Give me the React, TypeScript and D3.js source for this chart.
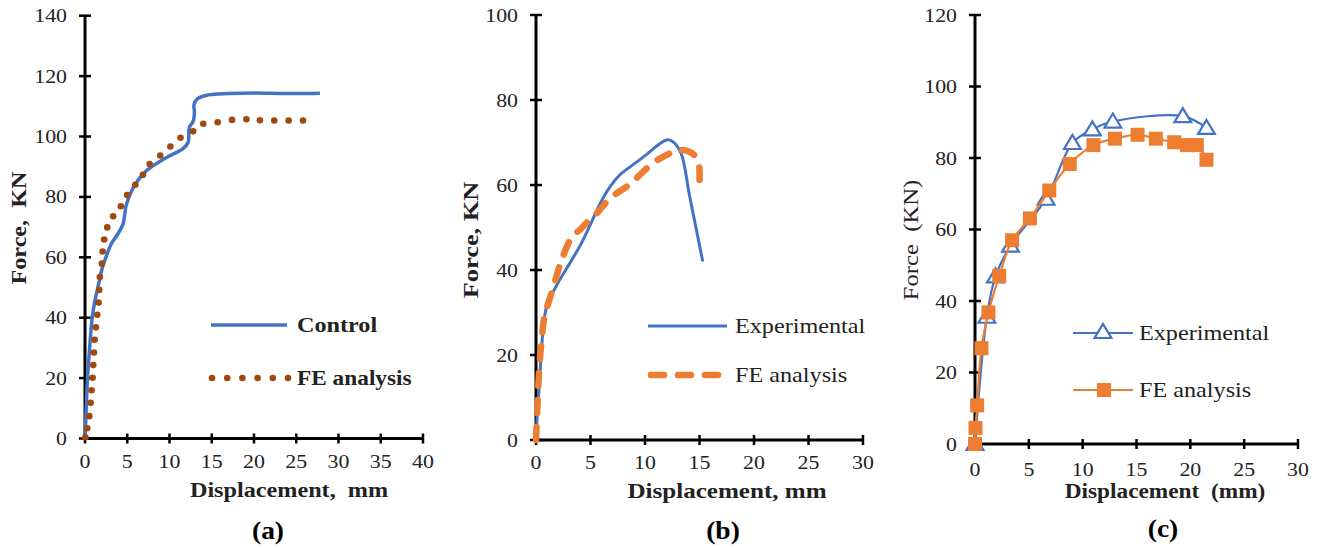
import React from "react";
import * as d3 from "d3";

type Pt = [number, number];

// Panel (a)
const A_CONTROL: Pt[] = [[0,0],[0.15,10],[0.3,20],[0.55,30],[0.85,40],[1.2,46],[1.6,51],[2.1,57],[2.6,61],[3.1,64.4],[3.9,67.8],[4.5,71],[4.9,77.5],[5.7,83],[7.2,88.5],[9.6,93],[11.6,96],[12.2,98],[12.35,103],[12.8,105],[12.95,108],[12.9,110.5],[13.3,112.5],[14.3,113.6],[17,114.2],[20,114.4],[24,114.2],[27.8,114.3]];
const A_FE: Pt[] = [[0.05,0.4],[0.27,3.4],[0.51,7.4],[0.67,11.8],[0.78,16],[0.9,20.1],[0.98,24.3],[1.06,28.5],[1.14,32.7],[1.29,36.8],[1.45,41],[1.61,45],[1.69,49.2],[1.76,53.5],[2.0,57.9],[2.08,61.9],[2.27,65.9],[2.63,69.9],[3.33,73.6],[4.24,76.9],[4.98,80.6],[5.96,84],[6.86,87.3],[7.65,90.9],[8.9,93.7],[10.1,96.7],[11.3,99.6],[12.8,101.7],[14,104.2],[15.7,104.7],[17.4,105.5],[19.1,105.7],[20.7,105.4],[22.4,105.3],[24.1,105.3],[25.8,105.3]];
const A_XTICKS = [0,5,10,15,20,25,30,35,40];
const A_YTICKS = [0,20,40,60,80,100,120,140];

// Panel (b)
const B_EXP: Pt[] = [[0,0],[0.1,5],[0.3,13],[0.5,21],[0.75,28.5],[1.1,32.5],[1.5,34.5],[2.0,36.9],[3.1,41.6],[4.0,45.5],[4.9,50.2],[5.9,55.7],[6.8,59.6],[7.7,62.4],[8.6,64.2],[10.1,67.1],[11.3,69.6],[12.0,70.6],[12.5,70.3],[13.3,67.5],[14.1,57.3],[15.3,42]];
const B_FE: Pt[] = [[0,0],[0.15,9],[0.3,17],[0.5,23],[0.8,29.5],[1.1,32],[1.6,36],[2.35,42.4],[3.4,48.2],[4.0,49.4],[4.9,51.8],[5.7,53.7],[6.8,56.9],[8.3,59.6],[9.2,61.6],[10.7,65.1],[12.0,67.1],[13.0,68.2],[14.1,67.8],[14.85,65.9],[15.0,61.2]];
const B_XTICKS = [0,5,10,15,20,25,30];
const B_YTICKS = [0,20,40,60,80,100];

// Panel (c)
const C_EXP: Pt[] = [[0,0],[1.1,35.6],[1.9,46.9],[3.3,55.5],[6.6,68.6],[9.05,84.2],[10.9,88],[12.8,90.2],[19.3,91.7],[21.5,88.4]];
const C_FE: Pt[] = [[0,0],[0.05,4.5],[0.2,10.8],[0.6,26.8],[1.25,36.8],[2.25,47],[3.45,57],[5.1,63.1],[6.9,70.9],[8.8,78.3],[11.0,83.6],[13.0,85.4],[15.1,86.5],[16.8,85.4],[18.5,84.4],[19.7,83.6],[20.6,83.6],[21.5,79.5]];
const C_XTICKS = [0,5,10,15,20,25,30];
const C_YTICKS = [0,20,40,60,80,100,120];

const FONT = "'Liberation Serif', 'Times New Roman', serif";
const BLUE = "#4472C4";
const ORANGE = "#ED7D31";
const BROWN = "#A0490F";
const NB = "\u00A0";

interface TProps {
  x: number;
  y: number;
  size: number;
  bold?: boolean;
  anchor?: "start" | "middle" | "end";
  rotate?: number;
  sx?: number;
  fill?: string;
  children: React.ReactNode;
}

function T({ x, y, size, bold, anchor = "start", rotate = 0, sx = 1.14, fill = "#222", children }: TProps) {
  return (
    <text
      transform={`translate(${x},${y}) rotate(${rotate}) scale(${sx},1)`}
      textAnchor={anchor}
      fontFamily={FONT}
      fontSize={size}
      fontWeight={bold ? "bold" : "normal"}
      fill={fill}
    >
      {children}
    </text>
  );
}

interface AxesProps {
  x: d3.ScaleLinear<number, number>;
  y: d3.ScaleLinear<number, number>;
  xticks: number[];
  yticks: number[];
  xLabelDy: number;
}

function Axes({ x, y, xticks, yticks, xLabelDy }: AxesProps) {
  const [x0, x1] = x.range();
  const [y0, y1] = y.range();
  return (
    <g>
      <line x1={x0} x2={x0} y1={y0} y2={y1} stroke="#000" strokeWidth={3} />
      <line x1={x0} x2={x1} y1={y0} y2={y0} stroke="#000" strokeWidth={3} />
      {yticks.map((t) => (
        <g key={"y" + t}>
          <line x1={x0 - 6} x2={x0 + 6} y1={y(t)} y2={y(t)} stroke="#000" strokeWidth={2.5} />
          <T x={x0 - 18} y={y(t) + 6.5} size={19} anchor="end" sx={1.15}>{t}</T>
        </g>
      ))}
      {xticks.map((t) => (
        <g key={"x" + t}>
          <line x1={x(t)} x2={x(t)} y1={y0 - 5} y2={y0 + 5} stroke="#000" strokeWidth={2.5} />
          <T x={x(t)} y={y0 + xLabelDy} size={19} anchor="middle" sx={1.15}>{t}</T>
        </g>
      ))}
    </g>
  );
}

export default function App() {
  // Panel a
  const ax = d3.scaleLinear().domain([0, 40]).range([85, 423]);
  const ay = d3.scaleLinear().domain([0, 140]).range([438.5, 15.7]);
  const aLine = d3.line<Pt>().x((d) => ax(d[0])).y((d) => ay(d[1])).curve(d3.curveCatmullRom.alpha(0.5));

  // Panel b
  const bx = d3.scaleLinear().domain([0, 30]).range([536, 863]);
  const by = d3.scaleLinear().domain([0, 100]).range([440, 15]);
  const bLine = d3.line<Pt>().x((d) => bx(d[0])).y((d) => by(d[1])).curve(d3.curveCatmullRom.alpha(0.5));

  // Panel c
  const cx = d3.scaleLinear().domain([0, 30]).range([975, 1298]);
  const cy = d3.scaleLinear().domain([0, 120]).range([444, 15]);
  const cLine = d3.line<Pt>().x((d) => cx(d[0])).y((d) => cy(d[1])).curve(d3.curveCatmullRom.alpha(0.5));

  const tri = (px: number, py: number, s = 8) =>
    `M${px},${py - s} L${px + s * 1.05},${py + s * 0.75} L${px - s * 1.05},${py + s * 0.75} Z`;

  const legendDots = d3.range(6).map((i) => 212 + i * 15.2);

  return (
    <svg width={1322} height={549} style={{ position: "absolute", left: 0, top: 0, background: "#fff" }}>
      <rect width={1322} height={549} fill="#fff" />

      {/* ---------- (a) ---------- */}
      <Axes x={ax} y={ay} xticks={A_XTICKS} yticks={A_YTICKS} xLabelDy={29} />
      <path d={aLine(A_CONTROL) || ""} fill="none" stroke={BLUE} strokeWidth={3.5} strokeLinejoin="round" />
      {A_FE.map((d, i) => (
        <circle key={"d" + i} cx={ax(d[0])} cy={ay(d[1])} r={3.3} fill={BROWN} />
      ))}
      <line x1={211} x2={287} y1={325} y2={325} stroke={BLUE} strokeWidth={3.5} />
      <T x={297} y={332} size={22} bold sx={1.1}>Control</T>
      {legendDots.map((x, i) => (
        <circle key={"ld" + i} cx={x} cy={378} r={3.3} fill={BROWN} />
      ))}
      <T x={297} y={385} size={22} bold sx={1.06}>FE analysis</T>
      <T x={26} y={228} size={22} bold anchor="middle" rotate={-90} sx={1.1}>{`Force,${NB}${NB}KN`}</T>
      <T x={289} y={497} size={22} bold anchor="middle" sx={1.1}>{`Displacement,${NB}${NB}mm`}</T>
      <T x={268} y={539} size={25} bold anchor="middle" sx={1.1} fill="#000">(a)</T>

      {/* ---------- (b) ---------- */}
      <Axes x={bx} y={by} xticks={B_XTICKS} yticks={B_YTICKS} xLabelDy={29} />
      <path d={bLine(B_EXP) || ""} fill="none" stroke={BLUE} strokeWidth={3} strokeLinejoin="round" />
      <path d={bLine(B_FE) || ""} fill="none" stroke={ORANGE} strokeWidth={6.5} strokeLinecap="round" strokeDasharray="13 14" />
      <line x1={648} x2={727} y1={326} y2={326} stroke={BLUE} strokeWidth={3} />
      <T x={735} y={333} size={22} sx={1.1}>Experimental</T>
      <line x1={651} x2={724} y1={375} y2={375} stroke={ORANGE} strokeWidth={6.5} strokeLinecap="round" strokeDasharray="13 14" />
      <T x={735} y={382} size={22} sx={1.1}>FE analysis</T>
      <T x={478} y={240} size={22} bold anchor="middle" rotate={-90} sx={1.2}>Force, KN</T>
      <T x={727} y={498} size={22} bold anchor="middle" sx={1.14}>Displacement, mm</T>
      <T x={723} y={539} size={25} bold anchor="middle" sx={1.1} fill="#000">(b)</T>

      {/* ---------- (c) ---------- */}
      <Axes x={cx} y={cy} xticks={C_XTICKS} yticks={C_YTICKS} xLabelDy={32} />
      <path d={cLine(C_EXP) || ""} fill="none" stroke={BLUE} strokeWidth={2.2} />
      {C_EXP.map((d, i) => (
        <path key={"t" + i} d={tri(cx(d[0]), cy(d[1]))} fill="#fff" stroke={BLUE} strokeWidth={2.2} strokeLinejoin="miter" />
      ))}
      <path d={cLine(C_FE) || ""} fill="none" stroke={ORANGE} strokeWidth={2.2} />
      {C_FE.map((d, i) => (
        <rect key={"s" + i} x={cx(d[0]) - 7} y={cy(d[1]) - 7} width={14} height={14} fill={ORANGE} />
      ))}
      <line x1={1073} x2={1133} y1={333} y2={333} stroke={BLUE} strokeWidth={2.2} />
      <path d={tri(1103, 332)} fill="#fff" stroke={BLUE} strokeWidth={2.2} />
      <T x={1139} y={340} size={22} sx={1.1}>Experimental</T>
      <line x1={1073} x2={1133} y1={390} y2={390} stroke={ORANGE} strokeWidth={2.2} />
      <rect x={1097} y={383} width={14} height={14} fill={ORANGE} />
      <T x={1139} y={397} size={22} sx={1.1}>FE analysis</T>
      <T x={918} y={240} size={22} anchor="middle" rotate={-90} sx={1.12}>{`Force${NB}${NB}(KN)`}</T>
      <T x={1165} y={498} size={22} bold anchor="middle" sx={1.06}>{`Displacement${NB}${NB}(mm)`}</T>
      <T x={1163} y={537} size={25} bold anchor="middle" sx={1.1} fill="#000">(c)</T>
    </svg>
  );
}
